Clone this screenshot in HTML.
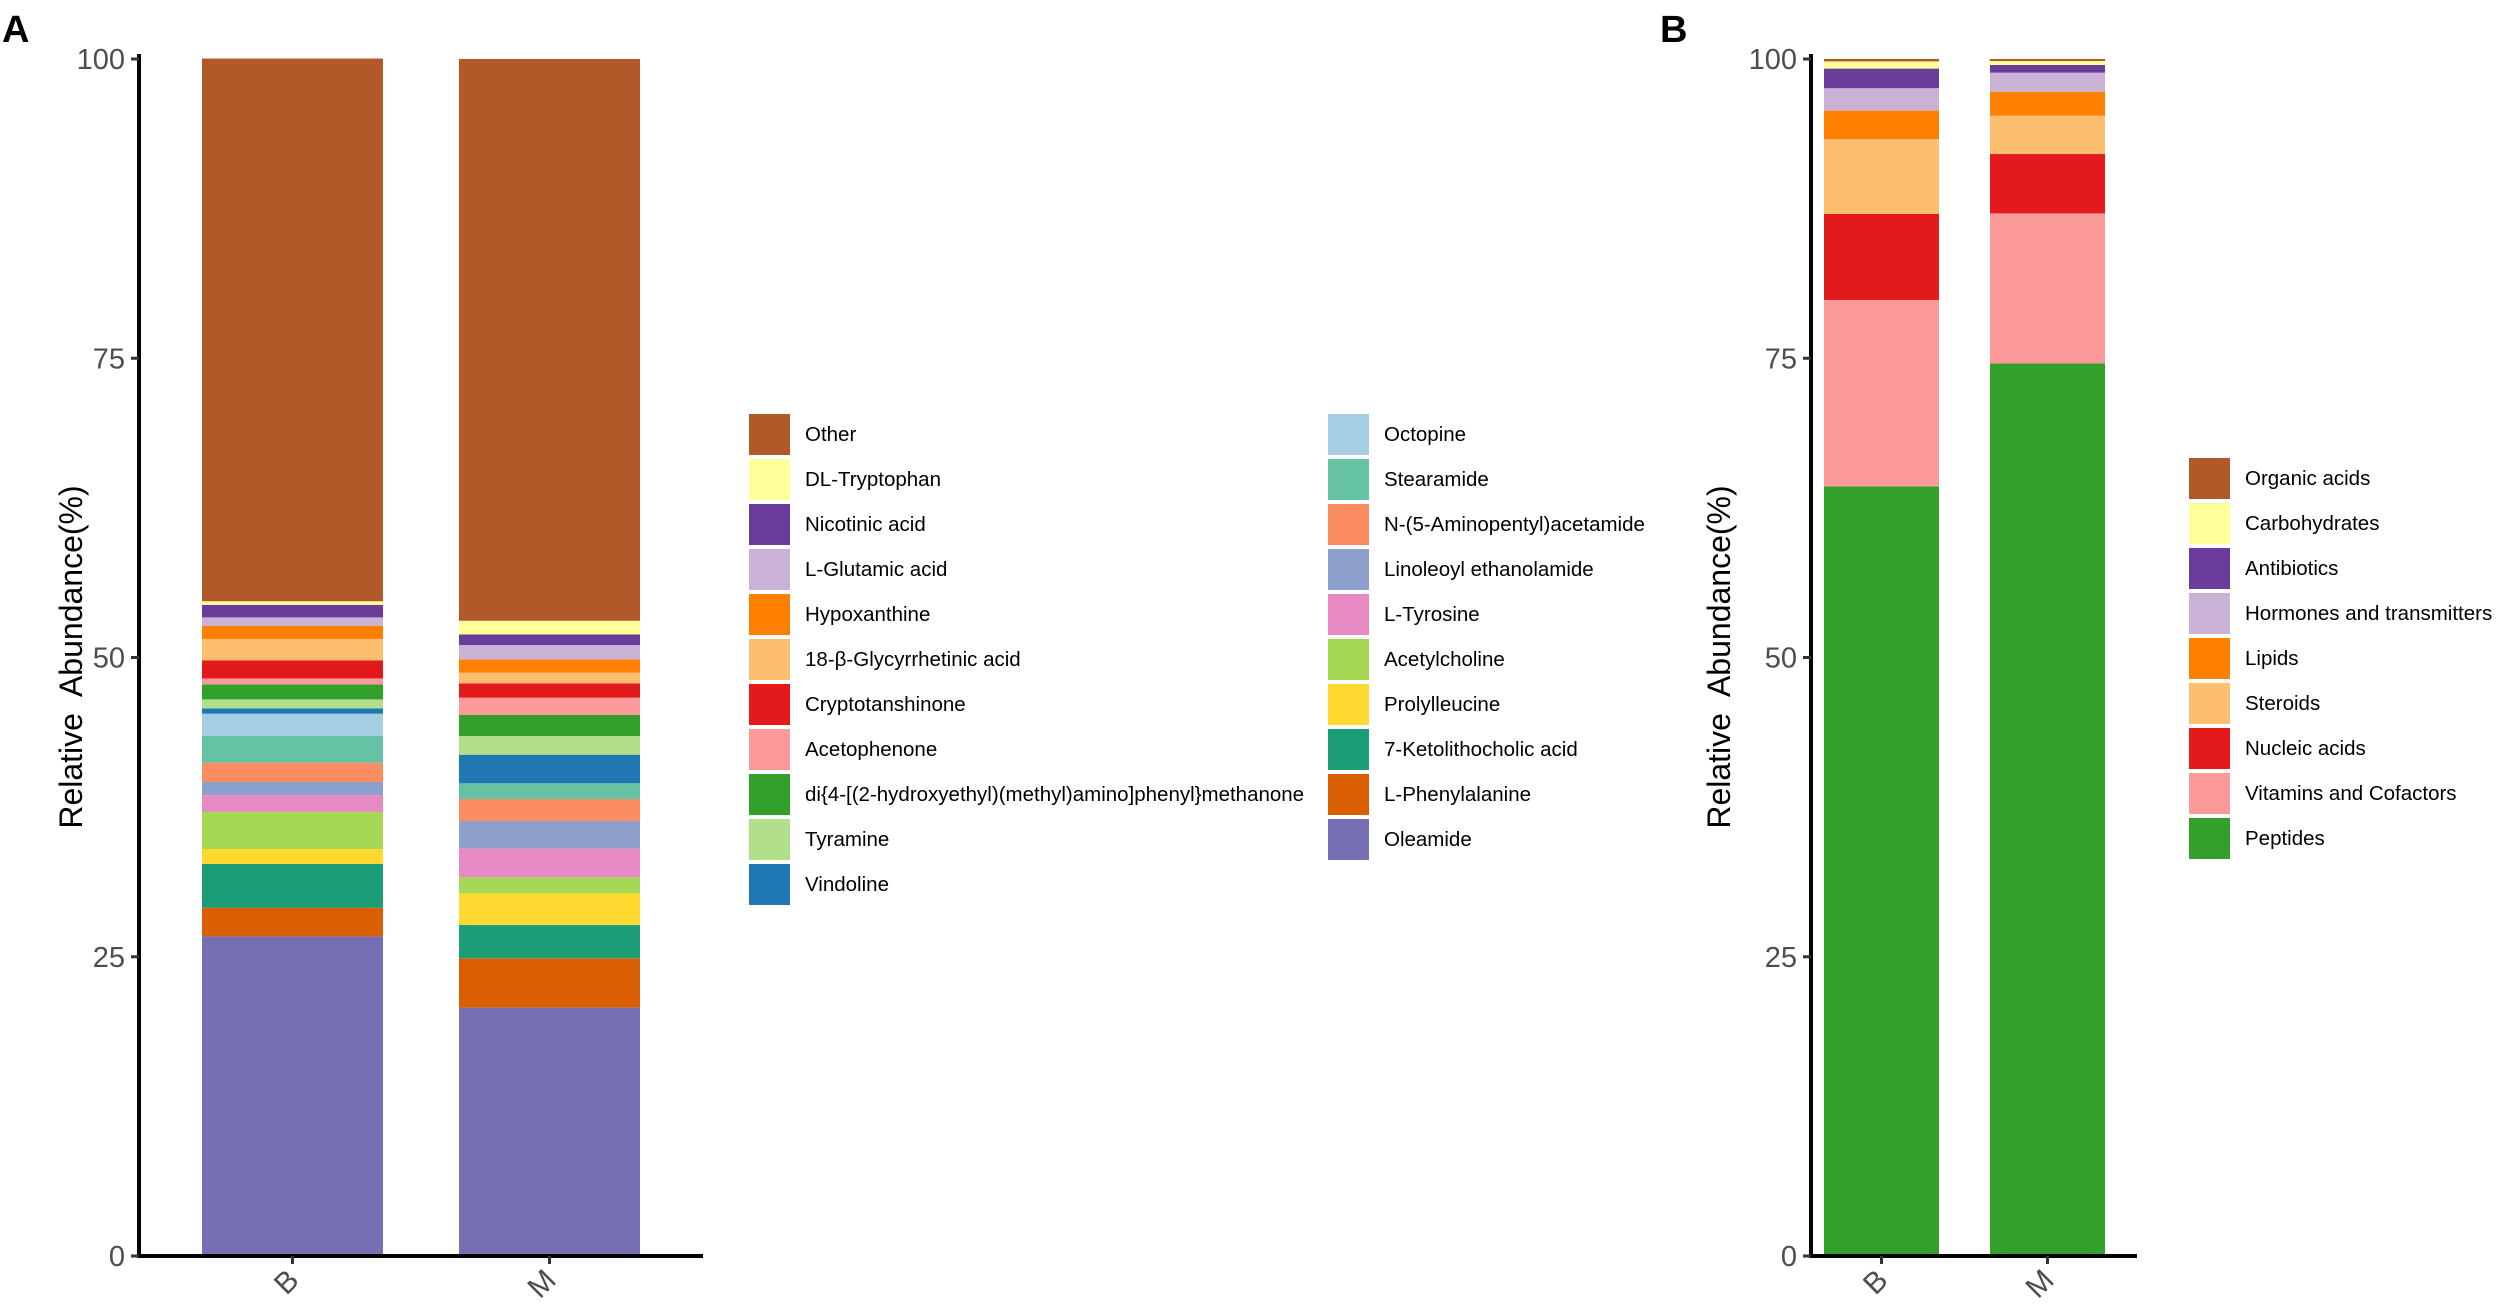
<!DOCTYPE html>
<html><head><meta charset="utf-8"><style>
html,body{margin:0;padding:0;background:#fff;}
svg{display:block;font-family:"Liberation Sans",Arial,sans-serif;}
</style></head><body>
<svg id="chart" width="2500" height="1305" viewBox="0 0 2500 1305" xmlns="http://www.w3.org/2000/svg"></svg>
<script>
const groups = ["B","M"];
const catsA = ["Oleamide","L-Phenylalanine","7-Ketolithocholic acid","Prolylleucine","Acetylcholine","L-Tyrosine","Linoleoyl ethanolamide","N-(5-Aminopentyl)acetamide","Stearamide","Octopine","Vindoline","Tyramine","di{4-[(2-hydroxyethyl)(methyl)amino]phenyl}methanone","Acetophenone","Cryptotanshinone","18-β-Glycyrrhetinic acid","Hypoxanthine","L-Glutamic acid","Nicotinic acid","DL-Tryptophan","Other"];
const colorsA = ["#7570b3","#d95f02","#1b9e77","#ffd92f","#a6d854","#e78ac3","#8da0cb","#fc8d62","#66c2a5","#a6cee3","#1f78b4","#b2df8a","#33a02c","#fb9a99","#e31a1c","#fdbf6f","#ff7f00","#cab2d6","#6a3d9a","#ffff99","#b15928"];
const valuesAB = [26.7,2.4,3.65,1.25,3.1,1.4,1.1,1.6,2.25,1.85,0.45,0.75,1.25,0.5,1.5,1.8,1.1,0.7,1.05,0.3,45.34];
const valuesAM = [20.75,4.12,2.78,2.65,1.34,2.42,2.28,1.84,1.31,0,2.39,1.56,1.76,1.44,1.2,0.89,1.12,1.19,0.89,1.14,46.93];
const catsB = ["Peptides","Vitamins and Cofactors","Nucleic acids","Steroids","Lipids","Hormones and transmitters","Antibiotics","Carbohydrates","Organic acids"];
const colorsB = ["#33a02c","#fb9a99","#e31a1c","#fdbf6f","#ff7f00","#cab2d6","#6a3d9a","#ffff99","#b15928"];
const valuesBB = [64.3,15.57,7.18,6.25,2.39,1.87,1.64,0.6,0.2];
const valuesBM = [74.56,12.54,4.96,3.2,2.01,1.59,0.64,0.33,0.17];
const yTicks = [0,25,50,75,100];

const NS="http://www.w3.org/2000/svg";
const svg=document.getElementById('chart');
function mk(tag,attrs,parent){const e=document.createElementNS(NS,tag);for(const k in attrs)e.setAttribute(k,attrs[k]);(parent||svg).appendChild(e);return e;}
function yScale(v){return 1256-(v/100)*(1256-59);}

function panel(opt){
  const g=mk('g',{});
  
  
  const xs=[opt.bx0,opt.bx1];
  const series=[opt.vb,opt.vm];
  series.forEach((vals,gi)=>{
    let cum=0;
    vals.forEach((v,i)=>{
      if(v<=0){return;}
      const y1=yScale(cum+v),y0=yScale(cum);
      const r=mk('rect',{x:xs[gi],y:y1,width:opt.bw,height:y0-y1,fill:opt.colors[i]},g);
      
      
      cum+=v;
    });
  });
  const ya=mk('line',{x1:opt.ax,y1:54,x2:opt.ax,y2:1258,stroke:'#000','stroke-width':4},g);
  
  const xa=mk('line',{x1:opt.ax-2,y1:1256,x2:opt.axEnd,y2:1256,stroke:'#000','stroke-width':4},g);
  
  yTicks.forEach(t=>{
    const y=yScale(t);
    mk('line',{x1:opt.ax-8,y1:y,x2:opt.ax,y2:y,stroke:'#333','stroke-width':3},g);
    const tx=mk('text',{x:opt.ax-14,y:y+10,'text-anchor':'end','font-size':29,fill:'#4d4d4d'},g);
    tx.textContent=t;
    
  });
  groups.forEach((gname,gi)=>{
    const cx=xs[gi]+opt.bw/2;
    mk('line',{x1:cx,y1:1256,x2:cx,y2:1264,stroke:'#333','stroke-width':3},g);
    const tx=mk('text',{x:cx+8,y:1282,'text-anchor':'end','font-size':30,fill:'#4d4d4d',transform:`rotate(-45 ${cx+8} 1282)`},g);
    tx.textContent=gname;
    
  });
  const yl=mk('text',{x:opt.ylx,y:657,'text-anchor':'middle','font-size':32,fill:'#000',style:'white-space:pre',transform:`rotate(-90 ${opt.ylx} 657)`},g);
  yl.textContent='Relative  Abundance(%)';
  
  const pl=mk('text',{x:opt.plx,y:42,'font-size':38,'font-weight':'bold',fill:'#000'},g);
  pl.textContent=opt.label;
  
}
panel({name:'panel-a',ax:139,axEnd:703,bx0:202,bx1:459,bw:181,vb:valuesAB,vm:valuesAM,colors:colorsA,cats:catsA,ylx:82,plx:2,label:'A'});
panel({name:'panel-b',ax:1811,axEnd:2137,bx0:1824,bx1:1990,bw:115,vb:valuesBB,vm:valuesBM,colors:colorsB,cats:catsB,ylx:1730,plx:1660,label:'B'});

function legend(cats,colors,order,cols,name){
  const g=mk('g',{});
  
  
  order.forEach((idx,k)=>{
    const c=cols[k];
    const e=mk('g',{},g);
    
    
    mk('rect',{x:c.sx,y:c.y-20,width:41,height:41,fill:colors[idx]},e);
    const t=mk('text',{x:c.tx,y:c.y+7,'font-size':20.5,fill:'#000'},e);
    t.textContent=cats[idx];
  });
}
const orderA=[];for(let i=catsA.length-1;i>=0;i--)orderA.push(i);
const posA=orderA.map((idx,k)=>{const col=k<11?0:1;const row=k<11?k:k-11;return{sx:col?1328:749,tx:col?1384:805,y:434+row*45};});
legend(catsA,colorsA,orderA,posA,'legend-a');
const orderB=[];for(let i=catsB.length-1;i>=0;i--)orderB.push(i);
const posB=orderB.map((idx,k)=>({sx:2189,tx:2245,y:478+k*45}));
legend(catsB,colorsB,orderB,posB,'legend-b');
</script>
</body></html>
